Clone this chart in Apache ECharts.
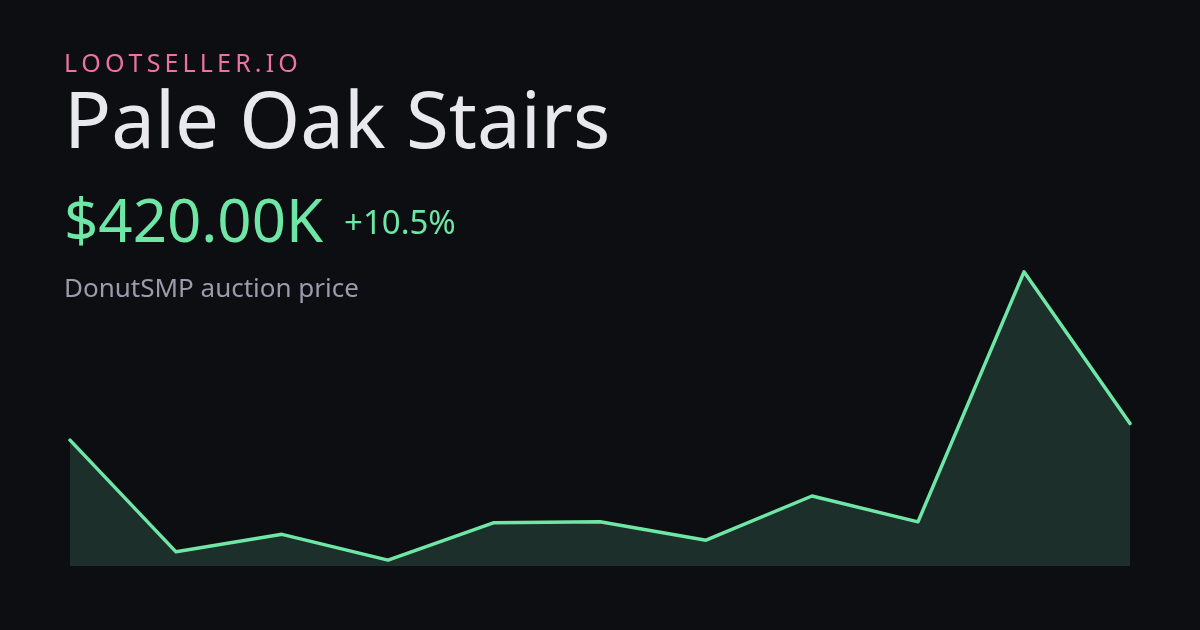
<!DOCTYPE html>
<html>
<head>
<meta charset="utf-8">
<script src="https://cdn.jsdelivr.net/npm/echarts@6/dist/echarts.min.js"></script>
<style>
html,body{margin:0;padding:0;background:#0c0e11;}
#chart{width:1200px;height:630px;}
</style>
</head>
<body>
<div id="chart"></div>
<script>
// ---- data ----
var categories = ['1','2','3','4','5','6','7','8','9','10','11'];
var prices = [380, 112, 154, 92, 182, 184, 140, 246, 184, 784, 420]; // K
var brand = 'LOOTSELLER.IO';
var itemName = 'Pale Oak Stairs';
var priceLabel = '$420.00K';
var changeLabel = '+10.5%';
var subtitle = 'DonutSMP auction price';
var axisMin = 78;
var axisMax = 798;

function spaced(s){ return s.split('').join('\u2009'); }

var chart = echarts.init(document.getElementById('chart'), null, {renderer:'canvas'});
var font = '"Noto Sans", "Open Sans", sans-serif';
chart.setOption({
  backgroundColor: '#0c0e11',
  animation: false,
  grid: {left: 70, right: 70, top: 266, bottom: 64},
  xAxis: {type: 'category', data: categories, boundaryGap: false, show: false},
  yAxis: {type: 'value', min: axisMin, max: axisMax, show: false, splitLine: {show: false}},
  series: [{
    type: 'line',
    data: prices,
    showSymbol: false,
    symbol: 'none',
    lineStyle: {color: '#6ee7a6', width: 3.5, cap: 'round', join: 'round'},
    areaStyle: {color: '#1d2f2a', opacity: 1, origin: 'start'}
  }],
  graphic: [
    {type: 'text', x: 64, y: 65, style: {text: spaced(brand), fill: '#ef70a4', font: '400 25px ' + font, verticalAlign: 'middle'}},
    {type: 'text', x: 64, y: 126, style: {text: itemName, fill: '#e8e8ee', font: '400 78px ' + font, verticalAlign: 'middle'}},
    {type: 'text', x: 64, y: 225, style: {text: priceLabel, fill: '#6ee7a6', font: '400 60px ' + font, verticalAlign: 'middle'}},
    {type: 'text', x: 344, y: 225, style: {text: changeLabel, fill: '#6ee7a6', font: '400 33px ' + font, verticalAlign: 'middle'}},
    {type: 'text', x: 64, y: 290, style: {text: subtitle, fill: '#9a9cae', font: '400 26px ' + font, verticalAlign: 'middle'}}
  ]
});
</script>
</body>
</html>
